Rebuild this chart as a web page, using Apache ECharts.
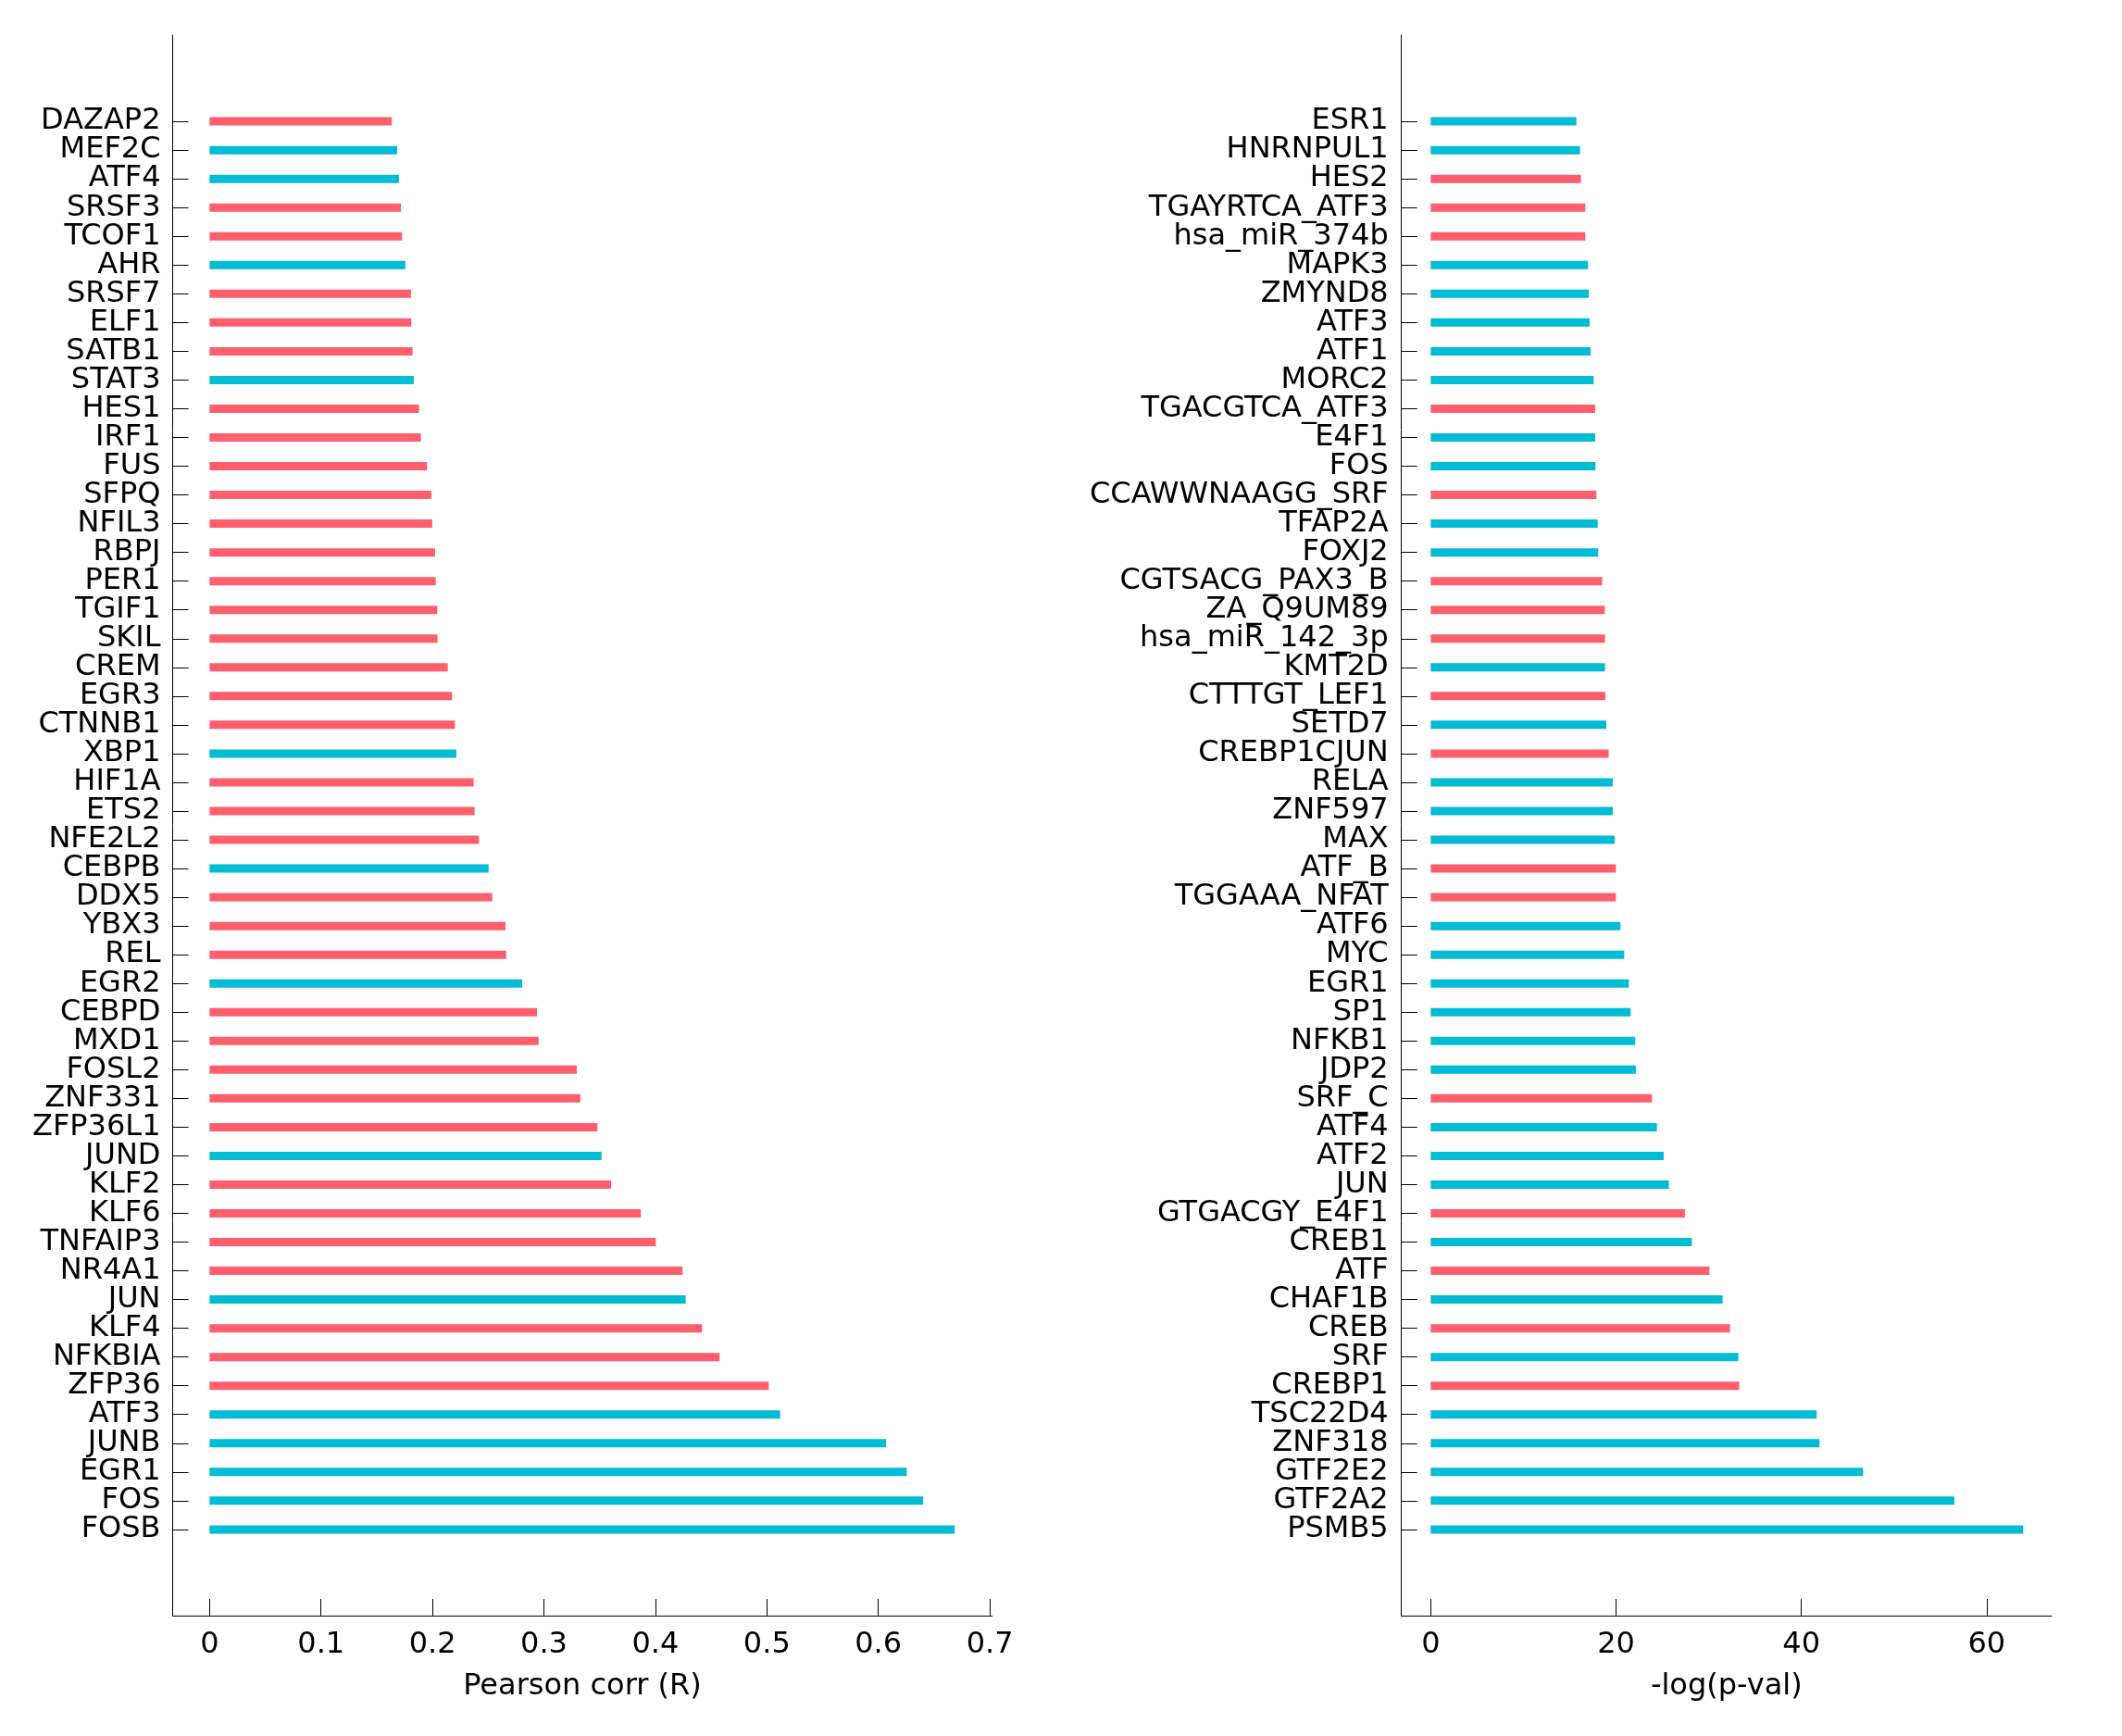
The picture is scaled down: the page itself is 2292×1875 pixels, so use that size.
<!DOCTYPE html>
<html>
<head>
<meta charset="utf-8">
<script src="https://cdn.jsdelivr.net/npm/echarts@6/dist/echarts.min.js"></script>
<style>
html,body{margin:0;padding:0;background:#fff;}
#chart{width:2292px;height:1875px;}
</style>
</head>
<body>
<div id="chart"></div>
<script>
// ---- Left panel: Pearson correlation ----
const leftNames = ["DAZAP2","MEF2C","ATF4","SRSF3","TCOF1","AHR","SRSF7","ELF1","SATB1","STAT3",
  "HES1","IRF1","FUS","SFPQ","NFIL3","RBPJ","PER1","TGIF1","SKIL","CREM",
  "EGR3","CTNNB1","XBP1","HIF1A","ETS2","NFE2L2","CEBPB","DDX5","YBX3","REL",
  "EGR2","CEBPD","MXD1","FOSL2","ZNF331","ZFP36L1","JUND","KLF2","KLF6","TNFAIP3",
  "NR4A1","JUN","KLF4","NFKBIA","ZFP36","ATF3","JUNB","EGR1","FOS","FOSB"];
const leftValues = [0.1635,0.1683,0.1699,0.1718,0.1727,0.1757,0.1807,0.1810,0.1821,0.1832,
  0.1879,0.1896,0.1951,0.1990,0.1998,0.2023,0.2029,0.2043,0.2045,0.2137,
  0.2176,0.2201,0.2214,0.2370,0.2378,0.2417,0.2503,0.2536,0.2655,0.2661,
  0.2805,0.2938,0.2952,0.3295,0.3326,0.3480,0.3517,0.3603,0.3869,0.4004,
  0.4244,0.4271,0.4418,0.4576,0.5017,0.5119,0.6070,0.6255,0.6402,0.6685];
const leftGroups = ["r","c","c","r","r","c","r","r","r","c",
  "r","r","r","r","r","r","r","r","r","r",
  "r","r","c","r","r","r","c","r","r","r",
  "c","r","r","r","r","r","c","r","r","r",
  "r","c","r","r","r","c","c","c","c","c"];
const leftTicks = [0,0.1,0.2,0.3,0.4,0.5,0.6,0.7];

// ---- Right panel: -log(p-val) ----
const rightNames = ["ESR1","HNRNPUL1","HES2","TGAYRTCA_ATF3","hsa_miR_374b","MAPK3","ZMYND8","ATF3","ATF1","MORC2",
  "TGACGTCA_ATF3","E4F1","FOS","CCAWWNAAGG_SRF","TFAP2A","FOXJ2","CGTSACG_PAX3_B","ZA_Q9UM89","hsa_miR_142_3p","KMT2D",
  "CTTTGT_LEF1","SETD7","CREBP1CJUN","RELA","ZNF597","MAX","ATF_B","TGGAAA_NFAT","ATF6","MYC",
  "EGR1","SP1","NFKB1","JDP2","SRF_C","ATF4","ATF2","JUN","GTGACGY_E4F1","CREB1",
  "ATF","CHAF1B","CREB","SRF","CREBP1","TSC22D4","ZNF318","GTF2E2","GTF2A2","PSMB5"];
const rightValues = [15.72,16.11,16.21,16.68,16.68,16.98,17.05,17.15,17.25,17.58,
  17.75,17.75,17.78,17.88,18.02,18.08,18.51,18.78,18.81,18.81,
  18.85,18.95,19.21,19.65,19.65,19.85,19.98,19.98,20.48,20.88,
  21.38,21.58,22.07,22.14,23.88,24.41,25.14,25.71,27.44,28.18,
  30.08,31.50,32.30,33.20,33.30,41.66,41.96,46.65,56.51,63.94];
const rightGroups = ["c","c","r","r","r","c","c","c","c","c",
  "r","c","c","r","c","c","r","r","r","c",
  "r","c","r","c","c","c","r","r","c","c",
  "c","c","c","c","r","c","c","c","r","c",
  "r","c","r","c","r","c","c","c","c","c"];
const rightTicks = [0,20,40,60];

const COLORS = {r: "#FF5E6C", c: "#00BCD4"};
const PAD = 3;
const FONT = "DejaVu Sans";

function padNames(names){
  const out = [];
  for (let i = 0; i < PAD; i++) out.push(" ".repeat(i + 1));
  names.forEach(n => out.push(n));
  for (let i = 0; i < PAD; i++) out.push(" ".repeat(PAD + i + 1));
  return out;
}
function padData(values, groups){
  const out = [];
  for (let i = 0; i < PAD; i++) out.push("-");
  values.forEach((v, i) => out.push({value: v, itemStyle: {color: COLORS[groups[i]]}}));
  for (let i = 0; i < PAD; i++) out.push("-");
  return out;
}
function isReal(n){ return (idx) => idx >= PAD && idx < PAD + n; }

function yAxisCfg(gridIndex, names, margin){
  return {
    gridIndex: gridIndex, type: "category", inverse: true, boundaryGap: false,
    data: padNames(names),
    axisLine: {show: true, onZero: false, lineStyle: {color: "#000", width: 1}},
    axisTick: {show: true, inside: true, length: 17, interval: isReal(names.length), lineStyle: {color: "#000", width: 1}},
    axisLabel: {show: true, interval: 0, hideOverlap: false, padding: [7, 0, 0, 0],
      margin: margin, color: "#000", fontSize: 32, fontFamily: FONT},
    splitLine: {show: false}
  };
}
function xAxisCfg(gridIndex, min, max, ticks, name, fmt){
  return {
    gridIndex: gridIndex, type: "value", min: min, max: max, position: "bottom",
    axisLine: {show: true, onZero: false, lineStyle: {color: "#000", width: 1}},
    axisTick: {show: true, inside: true, length: 18, customValues: ticks, lineStyle: {color: "#000", width: 1}},
    axisLabel: {show: true, customValues: ticks, margin: 16, color: "#000", fontSize: 32, fontFamily: FONT, formatter: fmt},
    splitLine: {show: false},
    name: name, nameLocation: "middle", nameGap: 61,
    nameTextStyle: {color: "#000", fontSize: 32, fontFamily: FONT}
  };
}

const chart = echarts.init(document.getElementById("chart"), null, {renderer: "canvas"});
chart.setOption({
  animation: false,
  backgroundColor: "#fff",
  grid: [
    {left: 186.5, top: 38, width: 885, height: 1707, containLabel: false, outerBoundsMode: "none"},
    {left: 1513.7, top: 38, width: 702.2, height: 1707, containLabel: false, outerBoundsMode: "none"}
  ],
  xAxis: [
    xAxisCfg(0, -0.0331, 0.702, leftTicks, "Pearson corr (R)", v => String(Math.round(v * 10) / 10)),
    xAxisCfg(1, -3.16, 67.0, rightTicks, "-log(p-val)", v => String(Math.round(v)))
  ],
  yAxis: [
    yAxisCfg(0, leftNames, 13),
    yAxisCfg(1, rightNames, 14)
  ],
  series: [
    {type: "bar", xAxisIndex: 0, yAxisIndex: 0, barWidth: 9, data: padData(leftValues, leftGroups)},
    {type: "bar", xAxisIndex: 1, yAxisIndex: 1, barWidth: 9, data: padData(rightValues, rightGroups)}
  ]
});
</script>
</body>
</html>
